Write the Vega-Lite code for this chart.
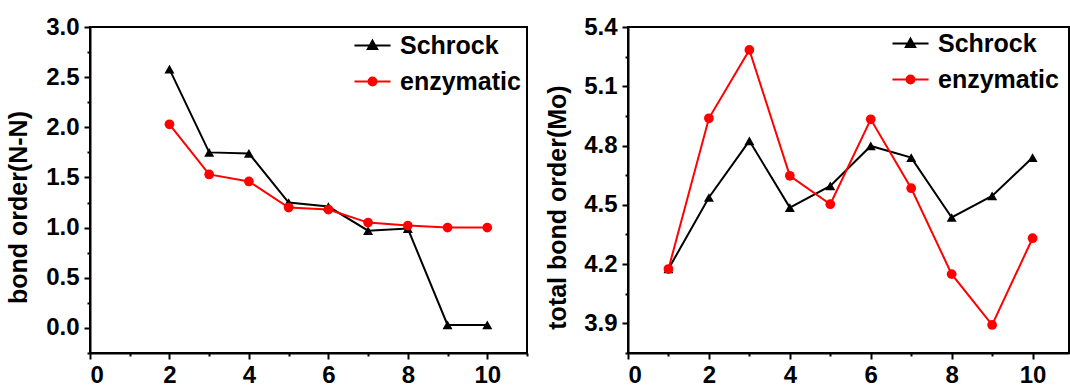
{
  "$schema": "https://vega.github.io/schema/vega-lite/v6.json",
  "background": "white",
  "padding": {"left": 5, "top": 14, "right": 0, "bottom": 0},
  "spacing": 15,
  "resolve": {"scale": {"color": "independent"}, "legend": {"color": "independent"}},
  "config": {
    "font": "Liberation Sans",
    "view": {"stroke": "black", "strokeWidth": 2},
    "axis": {
      "grid": false,
      "domainColor": "black", "domainWidth": 2,
      "tickColor": "black", "tickWidth": 2,
      "labelFont": "Liberation Sans", "labelFontWeight": "bold", "labelFontSize": 24, "labelColor": "black",
      "titleFont": "Liberation Sans", "titleFontWeight": "bold", "titleFontSize": 25, "titleColor": "black"
    },
    "legend": {
      "labelFont": "Liberation Sans", "labelFontWeight": "bold", "labelFontSize": 25, "labelColor": "black",
      "symbolSize": 1300, "symbolStrokeWidth": 2, "labelOffset": 8, "rowPadding": 3, "padding": 0
    }
  },
  "datasets": {
    "nn": [
      {"s": "Schrock", "x": 2, "v": 2.58},
      {"s": "Schrock", "x": 3, "v": 1.75},
      {"s": "Schrock", "x": 4, "v": 1.74},
      {"s": "Schrock", "x": 5, "v": 1.25},
      {"s": "Schrock", "x": 6, "v": 1.21},
      {"s": "Schrock", "x": 7, "v": 0.97},
      {"s": "Schrock", "x": 8, "v": 0.99},
      {"s": "Schrock", "x": 9, "v": 0.03},
      {"s": "Schrock", "x": 10, "v": 0.03},
      {"s": "enzymatic", "x": 2, "v": 2.03},
      {"s": "enzymatic", "x": 3, "v": 1.53},
      {"s": "enzymatic", "x": 4, "v": 1.46},
      {"s": "enzymatic", "x": 5, "v": 1.20},
      {"s": "enzymatic", "x": 6, "v": 1.18},
      {"s": "enzymatic", "x": 7, "v": 1.05},
      {"s": "enzymatic", "x": 8, "v": 1.02},
      {"s": "enzymatic", "x": 9, "v": 1.00},
      {"s": "enzymatic", "x": 10, "v": 1.00}
    ],
    "mo": [
      {"s": "Schrock", "x": 1, "v": 4.175},
      {"s": "Schrock", "x": 2, "v": 4.537},
      {"s": "Schrock", "x": 3, "v": 4.824},
      {"s": "Schrock", "x": 4, "v": 4.486},
      {"s": "Schrock", "x": 5, "v": 4.596},
      {"s": "Schrock", "x": 6, "v": 4.798},
      {"s": "Schrock", "x": 7, "v": 4.739},
      {"s": "Schrock", "x": 8, "v": 4.436},
      {"s": "Schrock", "x": 9, "v": 4.545},
      {"s": "Schrock", "x": 10, "v": 4.739},
      {"s": "enzymatic", "x": 1, "v": 4.175},
      {"s": "enzymatic", "x": 2, "v": 4.938},
      {"s": "enzymatic", "x": 3, "v": 5.284},
      {"s": "enzymatic", "x": 4, "v": 4.647},
      {"s": "enzymatic", "x": 5, "v": 4.503},
      {"s": "enzymatic", "x": 6, "v": 4.933},
      {"s": "enzymatic", "x": 7, "v": 4.584},
      {"s": "enzymatic", "x": 8, "v": 4.149},
      {"s": "enzymatic", "x": 9, "v": 3.892},
      {"s": "enzymatic", "x": 10, "v": 4.331}
    ]
  },
  "hconcat": [
    {
      "width": 437,
      "height": 326,
      "data": {"name": "nn"},
      "encoding": {
        "x": {"field": "x", "type": "quantitative", "scale": {"domain": [0, 11], "nice": false},
              "axis": {"values": [0, 1, 2, 3, 4, 5, 6, 7, 8, 9, 10, 11],
                       "labelExpr": "datum.value % 2 === 1 ? '' : datum.label",
                       "tickSize": {"condition": {"test": "datum.value % 2 === 1", "value": 3}, "value": 6},
                       "labelPadding": 4, "title": null}},
        "y": {"field": "v", "type": "quantitative", "scale": {"domain": [-0.25, 3.0], "nice": false, "zero": false},
              "axis": {"values": [-0.25, 0, 0.25, 0.5, 0.75, 1, 1.25, 1.5, 1.75, 2, 2.25, 2.5, 2.75, 3],
                       "labelExpr": "abs(datum.value*2 - round(datum.value*2)) > 0.01 ? '' : format(datum.value, '.1f')",
                       "tickSize": {"condition": {"test": "abs(datum.value*2 - round(datum.value*2)) > 0.01", "value": 3}, "value": 6},
                       "labelPadding": 5, "title": "bond order(N-N)", "titlePadding": 14, "titleY": 180}}
      },
      "layer": [
        {
          "mark": {"type": "line", "strokeWidth": 2},
          "encoding": {
            "color": {"field": "s", "type": "nominal", "scale": {"domain": ["Schrock", "enzymatic"], "range": ["black", "red"]},
                      "legend": {"title": null, "orient": "none", "legendX": 263, "legendY": -1,
                                 "symbolType": {"expr": "datum.value === 'Schrock' ? 'M-1,0H1M0,-0.27L0.26,0.2L-0.26,0.2Z' : 'M-1,0H1M0.22,0A0.22,0.22,0,1,1,-0.22,0A0.22,0.22,0,1,1,0.22,0Z'"},
                                 "encode": {"symbols": {"update": {
                                   "shape": {"signal": "datum.value === 'Schrock' ? 'M-1,0H1M0,-0.27L0.26,0.2L-0.26,0.2Z' : 'M-1,0H1M0.22,0A0.22,0.22,0,1,1,-0.22,0A0.22,0.22,0,1,1,0.22,0Z'"},
                                   "fill": {"signal": "datum.value === 'Schrock' ? 'black' : 'red'"},
                                   "stroke": {"signal": "datum.value === 'Schrock' ? 'black' : 'red'"},
                                   "strokeWidth": {"value": 2},
                                   "opacity": {"value": 1}, "fillOpacity": {"value": 1}, "strokeOpacity": {"value": 1}
                                 }}}}}
          }
        },
        {
          "transform": [{"filter": "datum.s === 'Schrock'"}],
          "mark": {"type": "point", "filled": true, "size": 100, "opacity": 1, "shape": "triangle-up"},
          "encoding": {"color": {"field": "s", "type": "nominal", "legend": null}}
        },
        {
          "transform": [{"filter": "datum.s === 'enzymatic'"}],
          "mark": {"type": "point", "filled": true, "size": 95, "opacity": 1, "shape": "circle"},
          "encoding": {"color": {"field": "s", "type": "nominal", "legend": null}}
        }
      ]
    },
    {
      "width": 441,
      "height": 326,
      "data": {"name": "mo"},
      "encoding": {
        "x": {"field": "x", "type": "quantitative", "scale": {"domain": [0, 10.9], "nice": false},
              "axis": {"values": [0, 1, 2, 3, 4, 5, 6, 7, 8, 9, 10],
                       "labelExpr": "datum.value % 2 === 1 ? '' : datum.label",
                       "tickSize": {"condition": {"test": "datum.value % 2 === 1", "value": 3}, "value": 6},
                       "labelPadding": 4, "title": null}},
        "y": {"field": "v", "type": "quantitative", "scale": {"domain": [3.75, 5.4], "nice": false, "zero": false},
              "axis": {"values": [3.75, 3.9, 4.05, 4.2, 4.35, 4.5, 4.65, 4.8, 4.95, 5.1, 5.25, 5.4],
                       "labelExpr": "abs((datum.value-3.9)/0.3 - round((datum.value-3.9)/0.3)) > 0.01 ? '' : format(datum.value, '.1f')",
                       "tickSize": {"condition": {"test": "abs((datum.value-3.9)/0.3 - round((datum.value-3.9)/0.3)) > 0.01", "value": 3}, "value": 6},
                       "labelPadding": 5, "title": "total bond order(Mo)", "titlePadding": 13, "titleY": 180}}
      },
      "layer": [
        {
          "mark": {"type": "line", "strokeWidth": 2},
          "encoding": {
            "color": {"field": "s", "type": "nominal", "scale": {"domain": ["Schrock", "enzymatic"], "range": ["black", "red"]},
                      "legend": {"title": null, "orient": "none", "legendX": 263, "legendY": -3,
                                 "symbolType": {"expr": "datum.value === 'Schrock' ? 'M-1,0H1M0,-0.27L0.26,0.2L-0.26,0.2Z' : 'M-1,0H1M0.22,0A0.22,0.22,0,1,1,-0.22,0A0.22,0.22,0,1,1,0.22,0Z'"},
                                 "encode": {"symbols": {"update": {
                                   "shape": {"signal": "datum.value === 'Schrock' ? 'M-1,0H1M0,-0.27L0.26,0.2L-0.26,0.2Z' : 'M-1,0H1M0.22,0A0.22,0.22,0,1,1,-0.22,0A0.22,0.22,0,1,1,0.22,0Z'"},
                                   "fill": {"signal": "datum.value === 'Schrock' ? 'black' : 'red'"},
                                   "stroke": {"signal": "datum.value === 'Schrock' ? 'black' : 'red'"},
                                   "strokeWidth": {"value": 2},
                                   "opacity": {"value": 1}, "fillOpacity": {"value": 1}, "strokeOpacity": {"value": 1}
                                 }}}}}
          }
        },
        {
          "transform": [{"filter": "datum.s === 'Schrock'"}],
          "mark": {"type": "point", "filled": true, "size": 100, "opacity": 1, "shape": "triangle-up"},
          "encoding": {"color": {"field": "s", "type": "nominal", "legend": null}}
        },
        {
          "transform": [{"filter": "datum.s === 'enzymatic'"}],
          "mark": {"type": "point", "filled": true, "size": 95, "opacity": 1, "shape": "circle"},
          "encoding": {"color": {"field": "s", "type": "nominal", "legend": null}}
        }
      ]
    }
  ]
}
